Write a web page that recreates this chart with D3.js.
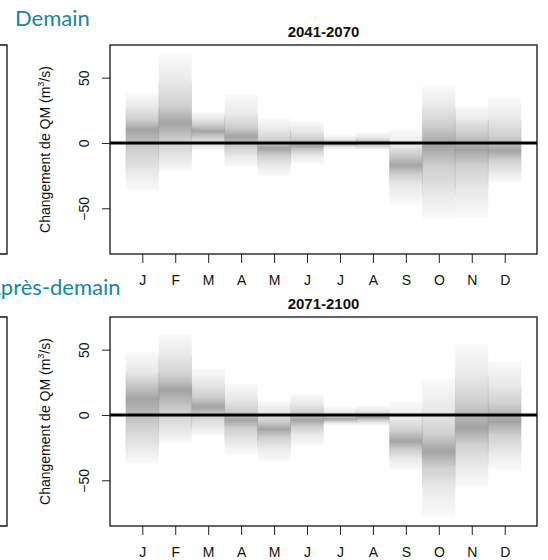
<!DOCTYPE html>
<html>
<head>
<meta charset="utf-8">
<script src="https://cdn.jsdelivr.net/npm/d3@7"></script>
<style>
body{margin:0;background:#fff;}
svg{display:block;font-family:"Liberation Sans",Arial,Helvetica,sans-serif;}
</style>
</head>
<body>
<div id="chart"></div>
<script>
var months = ["J","F","M","A","M","J","J","A","S","O","N","D"];
var yTicks = [-50, 0, 50];

// 2041-2070 (Demain) : spread of the ensemble per month
var demainMin = [-36, -22,  -6, -18, -25, -16, -5, -5, -47, -58, -57, -30];
var demainP10 = [-22, -12,  -2, -10, -17, -10, -3, -4, -32, -40, -35, -22];
var demainP25 = [ -5,   2,   4,  -3, -10,  -6, -2, -2, -24, -18, -17, -13];
var demainMed = [ 10,  15,   9,   5,  -4,  -2, -1,  0, -17,  -2,  -5,  -6];
var demainP75 = [ 18,  28,  14,  12,   2,   3,  1,  2,  -9,  14,   8,   5];
var demainP90 = [ 27,  46,  19,  22,  10,   9,  3,  4,  -2,  28,  18,  18];
var demainMax = [ 38,  69,  24,  37,  19,  17,  6,  8,  10,  44,  28,  34];

// 2071-2100 (Apres-demain)
var apresMin = [-37, -22, -16, -30, -35, -23, -8, -8, -42, -78, -54, -42];
var apresP10 = [-25, -12,  -8, -20, -25, -15, -6, -6, -33, -55, -38, -28];
var apresP25 = [ -8,   3,   0, -10, -17,  -9, -5, -4, -27, -40, -22, -15];
var apresMed = [ 12,  19,   6,  -4, -11,  -4, -3, -2, -20, -28, -10,  -5];
var apresP75 = [ 25,  30,  14,   3,  -5,   2, -1,  0, -12, -15,  10,   8];
var apresP90 = [ 33,  45,  24,  12,   2,   8,  2,  3,  -3,   3,  30,  22];
var apresMax = [ 48,  62,  35,  24,  11,  16,  6,  7,  10,  28,  54,  41];

function init(){

var w = 548;
var h = 560;
var left = 110, right = 537, ph = 209;

let svg = d3.select("#chart")
            .append("svg")
            .attr("width", w)
            .attr("height", h);

var defs = svg.append("defs");

var panels = [
    {title: "2041-2070", head: "Demain", headX: 15, headY: 26, top: 45,
     q: [demainMin, demainP10, demainP25, demainMed, demainP75, demainP90, demainMax]},
    {title: "2071-2100", head: "Après-demain", headX: -14, headY: 295, top: 317,
     q: [apresMin, apresP10, apresP25, apresMed, apresP75, apresP90, apresMax]}
];

var x = d3.scaleLinear().domain([0.02, 12.98]).range([left, right]);

panels.forEach(function(p, k){
    var y = d3.scaleLinear().domain([-85, 75]).range([p.top + ph, p.top]);

    var bars = months.map(function(m, i){
        return {i: i + 1, min: p.q[0][i], p10: p.q[1][i], p25: p.q[2][i], med: p.q[3][i],
                p75: p.q[4][i], p90: p.q[5][i], max: p.q[6][i]};
    });

    // shading: darker near the median, fading out to the extremes
    bars.forEach(function(d){
        var y1 = y(d.max), y2 = y(d.min);
        var grad = defs.append("linearGradient")
            .attr("id", "grad" + k + "_" + d.i)
            .attr("gradientUnits", "userSpaceOnUse")
            .attr("x1", 0).attr("x2", 0)
            .attr("y1", y1).attr("y2", y2);
        var stops = [[d.max, 0.02], [d.p90, 0.09], [d.p75, 0.19], [d.med, 0.36],
                     [d.p25, 0.19], [d.p10, 0.09], [d.min, 0.02]];
        grad.selectAll("stop")
            .data(stops)
            .enter()
            .append("stop")
            .attr("offset", function(s){ return (y(s[0]) - y1) / (y2 - y1); })
            .attr("stop-color", "#000")
            .attr("stop-opacity", function(s){ return s[1]; });
    });

    var bar = svg.append("g").selectAll("g")
        .data(bars)
        .enter()
        .append("g");

    bar.append("rect")
        .attr("x", function(d){ return x(d.i - 0.5); })
        .attr("y", function(d){ return y(d.max); })
        .attr("width", function(d){ return x(d.i + 0.5) - x(d.i - 0.5); })
        .attr("height", function(d){ return y(d.min) - y(d.max); })
        .attr("fill", function(d){ return "url(#grad" + k + "_" + d.i + ")"; });

    // faint darker sides, where the stacked members overlap
    bar.append("path")
        .attr("d", function(d){
            var a = x(d.i - 0.5), b = x(d.i + 0.5);
            return "M" + a + "," + y(d.p90) + "V" + y(d.p10) +
                   "M" + b + "," + y(d.p90) + "V" + y(d.p10);
        })
        .attr("fill", "none")
        .attr("stroke", "#000")
        .attr("stroke-opacity", 0.07)
        .attr("stroke-width", 0.8);

    // zero line
    svg.append("line")
        .attr("x1", left).attr("x2", right)
        .attr("y1", y(0)).attr("y2", y(0))
        .attr("stroke", "#000")
        .attr("stroke-width", 3);

    // plot box
    svg.append("rect")
        .attr("x", left).attr("y", p.top)
        .attr("width", right - left).attr("height", ph)
        .attr("fill", "none")
        .attr("stroke", "#111")
        .attr("stroke-width", 1.3);

    // edge of the neighbouring panel, cut by the crop
    svg.append("path")
        .attr("d", "M0," + p.top + "H7V" + (p.top + ph) + "H0")
        .attr("fill", "none")
        .attr("stroke", "#111")
        .attr("stroke-width", 1.3);

    var xAxis = svg.append("g")
        .attr("transform", "translate(0," + (p.top + ph) + ")")
        .call(d3.axisBottom(x)
            .tickValues(d3.range(1, 13))
            .tickFormat(function(d){ return months[d - 1]; })
            .tickSize(9)
            .tickPadding(12));
    xAxis.select(".domain").remove();
    xAxis.selectAll("line").attr("stroke", "#222");
    xAxis.selectAll("text")
        .attr("font-size", 14)
        .attr("font-family", "Liberation Sans, Arial, sans-serif")
        .attr("fill", "#111");

    var yAxis = svg.append("g")
        .attr("transform", "translate(" + left + ",0)")
        .call(d3.axisLeft(y).tickValues(yTicks).tickSize(8).tickFormat(d3.format("d")));
    yAxis.select(".domain").remove();
    yAxis.selectAll("line").attr("stroke", "#222");
    yAxis.selectAll("text")
        .attr("x", null).attr("dy", null)
        .attr("transform", "translate(-21,0) rotate(-90)")
        .attr("text-anchor", "middle")
        .attr("font-size", 14)
        .attr("font-family", "Liberation Sans, Arial, sans-serif")
        .attr("fill", "#111");

    var lab = svg.append("text")
        .attr("transform", "translate(50," + (p.top + ph / 2) + ") rotate(-90)")
        .attr("text-anchor", "middle")
        .attr("font-size", 14)
        .attr("fill", "#111")
        .text("Changement de QM (m");
    lab.append("tspan").attr("font-size", 9).attr("dy", -6).text("3");
    lab.append("tspan").attr("dy", 6).text("/s)");

    svg.append("text")
        .attr("x", (left + right) / 2)
        .attr("y", p.top - 8)
        .attr("text-anchor", "middle")
        .attr("font-size", 15)
        .attr("font-weight", "bold")
        .attr("fill", "#111")
        .text(p.title);

    svg.append("text")
        .attr("x", p.headX)
        .attr("y", p.headY)
        .attr("font-family", "Lato, 'Open Sans', sans-serif")
        .attr("font-size", 22)
        .attr("fill", "#16879b")
        .text(p.head);
});

}

window.onload = init;
</script>
</body>
</html>
